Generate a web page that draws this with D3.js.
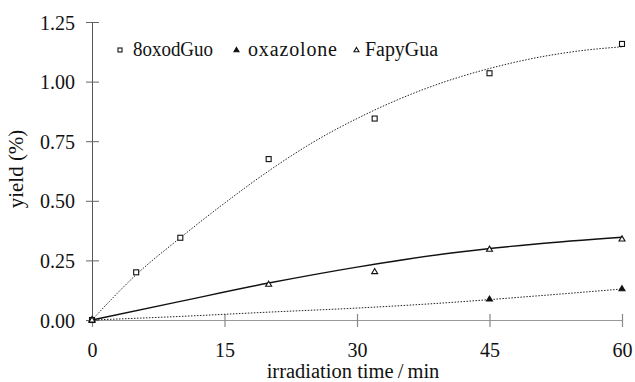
<!DOCTYPE html>
<html>
<head>
<meta charset="utf-8">
<script src="https://cdn.jsdelivr.net/npm/d3@7/dist/d3.min.js"></script>
<style>
  html, body { margin: 0; padding: 0; background: #fff; }
  svg { display: block; }
  text { font-family: "Liberation Serif", "Times New Roman", "DejaVu Serif", serif; fill: #111; }
</style>
</head>
<body>
<svg id="chart" width="635" height="382"></svg>
<script>
// ---- data ----
const seriesNames = ["8oxodGuo", "oxazolone", "FapyGua"];

const oxoT = [0, 5, 10, 20, 32, 45, 60];
const oxoY = [0.0, 0.20, 0.345, 0.675, 0.845, 1.035, 1.158];

const oxaT = [0, 45, 60];
const oxaY = [0.0, 0.088, 0.131];

const fapyT = [0, 20, 32, 45, 60];
const fapyY = [0.0, 0.15, 0.203, 0.297, 0.34];

// fitted curves as drawn in the reference
const oxoFitT = [0, 5, 10, 15, 20, 25, 30, 35, 40, 45, 50, 55, 60];
const oxoFitY = [0, 0.19, 0.345, 0.49, 0.625, 0.745, 0.845, 0.93, 1.0, 1.055, 1.098, 1.128, 1.146];

const oxaFitT = [0, 10, 20, 30, 40, 50, 60];
const oxaFitY = [0, 0.015, 0.033, 0.05, 0.072, 0.1, 0.13];

const fapyFitT = [0, 10, 20, 30, 40, 50, 60];
const fapyFitY = [0, 0.078, 0.155, 0.222, 0.278, 0.318, 0.347];

const xTicks = [0, 15, 30, 45, 60];
const yTicks = [0, 0.25, 0.5, 0.75, 1.0, 1.25];

const xTitle = "irradiation time\u2009/\u2009min";
const yTitle = "yield (%)";

// ---- drawing ----
const FONT = "Liberation Serif, Times New Roman, serif";
const svg = d3.select("#chart");
const x = d3.scaleLinear().domain([0, 60]).range([92, 622]);
const y = d3.scaleLinear().domain([0, 1.25]).range([320, 22]);

const zip = (a, b) => a.map((v, i) => [v, b[i]]);
const line = d3.line().x(d => x(d[0])).y(d => y(d[1])).curve(d3.curveMonotoneX);

// x axis
const gx = svg.append("g").attr("transform", `translate(0,${y(0)})`)
  .call(d3.axisBottom(x).tickValues(xTicks).tickSize(6).tickSizeOuter(0));
gx.attr("font-family", FONT);
gx.select(".domain").attr("stroke", "#999").attr("stroke-width", 1.2);
gx.selectAll(".tick line").attr("y1", -6).attr("y2", 7).attr("stroke", "#888").attr("stroke-width", 1.2);
gx.selectAll(".tick text").attr("font-size", 20).attr("fill", "#111").attr("dy", null).attr("y", 37);

// y axis
const gy = svg.append("g").attr("transform", `translate(${x(0)},0)`)
  .call(d3.axisLeft(y).tickValues(yTicks).tickFormat(d3.format(".2f")).tickSize(6).tickSizeOuter(0));
gy.attr("font-family", FONT);
gy.select(".domain").attr("stroke", "#555").attr("stroke-width", 1);
gy.selectAll(".tick line").attr("x1", -6).attr("x2", 7).attr("stroke", "#666").attr("stroke-width", 1);
gy.selectAll(".tick text").attr("font-size", 20).attr("fill", "#111").attr("x", -17).attr("dy", "0.35em");

// fitted curves
svg.append("path").datum(zip(oxoFitT, oxoFitY)).attr("d", line)
  .attr("fill", "none").attr("stroke", "#222").attr("stroke-width", 1).attr("stroke-dasharray", "1.5,1.5");
svg.append("path").datum(zip(oxaFitT, oxaFitY)).attr("d", line)
  .attr("fill", "none").attr("stroke", "#222").attr("stroke-width", 1).attr("stroke-dasharray", "1.5,1.5");
svg.append("path").datum(zip(fapyFitT, fapyFitY)).attr("d", line)
  .attr("fill", "none").attr("stroke", "#111").attr("stroke-width", 1.4);

// markers
function square(g, cx, cy, s) {
  g.append("rect").attr("x", cx - s / 2).attr("y", cy - s / 2).attr("width", s).attr("height", s)
    .attr("fill", "#fff").attr("stroke", "#111").attr("stroke-width", 1.1);
}
function tri(g, cx, cy, filled, s) {
  const h = s * 0.85;
  g.append("path").attr("d", `M${cx},${cy - h * 0.6}L${cx + s / 2},${cy + h * 0.4}L${cx - s / 2},${cy + h * 0.4}Z`)
    .attr("fill", filled ? "#111" : "#fff").attr("stroke", "#111").attr("stroke-width", 1.1);
}
const gm = svg.append("g");
zip(oxoT, oxoY).forEach(d => square(gm, x(d[0]), y(d[1]), 5));
zip(oxaT, oxaY).forEach(d => tri(gm, x(d[0]), y(d[1]), true, 6));
zip(fapyT, fapyY).forEach(d => tri(gm, x(d[0]), y(d[1]), false, 6));

// legend
const lg = svg.append("g").attr("font-family", FONT);
square(lg, 120, 50, 4);
lg.append("text").attr("x", 133).attr("y", 55.5).attr("font-size", 20)
  .attr("textLength", 80).attr("lengthAdjust", "spacingAndGlyphs").text(seriesNames[0]);
tri(lg, 236.5, 50, true, 5);
lg.append("text").attr("x", 248).attr("y", 55.5).attr("font-size", 20)
  .attr("textLength", 89).attr("lengthAdjust", "spacing").text(seriesNames[1]);
tri(lg, 356.5, 50, false, 5);
lg.append("text").attr("x", 365).attr("y", 55.5).attr("font-size", 20)
  .attr("textLength", 73).attr("lengthAdjust", "spacingAndGlyphs").text(seriesNames[2]);

// axis titles
svg.append("text").attr("x", 353).attr("y", 378).attr("text-anchor", "middle").attr("font-size", 20.5)
  .attr("font-family", FONT).text(xTitle);
svg.append("text").attr("transform", "translate(23,169) rotate(-90)").attr("text-anchor", "middle").attr("font-size", 21)
  .attr("font-family", FONT).text(yTitle);
</script>
</body>
</html>
